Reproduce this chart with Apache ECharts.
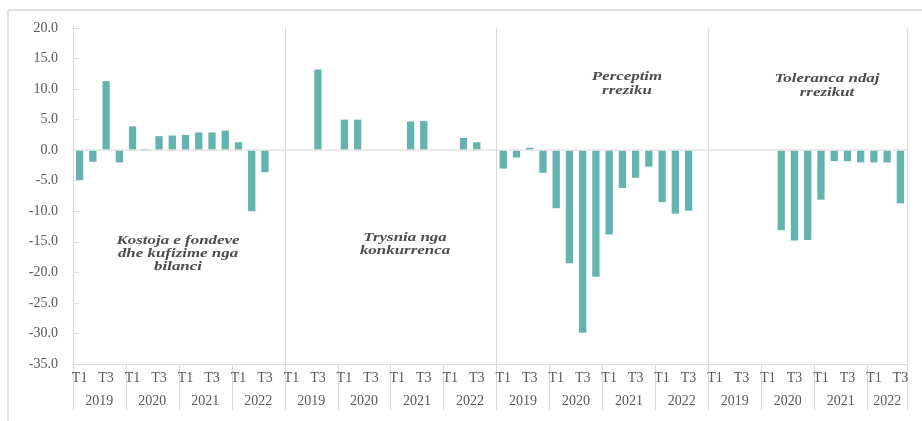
<!DOCTYPE html>
<html>
<head>
<meta charset="utf-8">
<script src="https://cdn.jsdelivr.net/npm/echarts@6/dist/echarts.min.js"></script>
<style>
  html, body { margin: 0; padding: 0; background: #ffffff; }
  #chart { width: 922px; height: 421px; }
</style>
</head>
<body>
<div id="chart"></div>
<script>
// Survey panels, each running 2019 T1 .. 2022
const years = ['2019', '2020', '2021', '2022'];
const quarters = ['T1', 'T2', 'T3', 'T4'];

const panelTitles = [
  'Kostoja e fondeve\ndhe kufizime nga\nbilanci',
  'Trysnia nga\nkonkurrenca',
  'Perceptim\nrreziku',
  'Toleranca ndaj\nrrezikut'
];

// Net balances per quarter (percent)
const kostoja   = [-4.9, -1.9, 11.3, -2.0, 3.9, 0.2, 2.3, 2.4, 2.5, 2.9, 2.9, 3.2, 1.3, -10.0, -3.6, null];
const trysnia   = [0, 0, 13.2, 0, 5.0, 5.0, 0, 0, 0, 4.7, 4.8, 0, 0, 2.0, 1.3, null];
const perceptim = [-3.0, -1.2, 0.4, -3.7, -9.5, -18.5, -29.9, -20.7, -13.8, -6.2, -4.5, -2.7, -8.5, -10.4, -9.9, null];
const toleranca = [0, 0, 0, 0, 0, -13.1, -14.8, -14.7, -8.1, -1.8, -1.8, -2.0, -2.0, -2.0, -8.7];

const panels = [kostoja, trysnia, perceptim, toleranca];

// Flatten panels into one category axis
const categories = [];
const values = [];
const quarterIdx = [];
const yearIdx = [];
const panelStart = [];
panels.forEach(function (vals, p) {
  panelStart.push(categories.length);
  vals.forEach(function (v, k) {
    const y = Math.floor(k / quarters.length);
    const q = k % quarters.length;
    categories.push(panelTitles[p].replace(/\n/g, ' ') + ' ' + years[y] + ' ' + quarters[q]);
    values.push(v);
    quarterIdx.push(q);
    yearIdx.push(y);
  });
});
const total = categories.length;

// Year label sits in the middle of its block of quarters
function yearLabel(i) {
  const q = quarterIdx[i];
  const start = i - q;
  let len = 1;
  while (start + len < total && quarterIdx[start + len] !== 0) len++;
  if (len % 2 === 0) {
    if (q === len / 2 - 1) return '{even|' + years[yearIdx[i]] + '}';
  } else {
    if (q === (len - 1) / 2) return '{odd|' + years[yearIdx[i]] + '}';
  }
  return '';
}

const gray = '#d9d9d9';
const textGray = '#595959';
const font = 'Liberation Serif';
const titleFont = 'italic bold 13px "Liberation Serif"';

const chart = echarts.init(document.getElementById('chart'));

chart.setOption({
  animation: false,
  backgroundColor: '#ffffff',
  grid: { left: 73, right: 15, top: 28, bottom: 57 },
  xAxis: [
    {
      type: 'category',
      data: categories,
      position: 'bottom',
      axisLine: { show: true, onZero: false, lineStyle: { color: gray } },
      axisTick: {
        show: true,
        length: 46,
        interval: function (i) { return quarterIdx[i] === 0; },
        lineStyle: { color: gray }
      },
      splitLine: {
        show: true,
        interval: function (i) { return i > 0 && panelStart.indexOf(i) >= 0; },
        lineStyle: { color: gray, width: 1 }
      },
      axisLabel: {
        interval: 0,
        margin: 7,
        color: textGray,
        fontFamily: font,
        fontSize: 14,
        formatter: function (v, i) {
          const q = quarterIdx[i];
          return (q === 0 || q === 2) ? quarters[q] : '';
        }
      }
    },
    {
      type: 'category',
      data: categories,
      position: 'bottom',
      axisLine: { show: false },
      axisTick: { show: false },
      splitLine: { show: false },
      axisLabel: {
        interval: 0,
        margin: 30,
        color: textGray,
        fontFamily: font,
        fontSize: 14,
        formatter: function (v, i) { return yearLabel(i); },
        rich: {
          even: { padding: [0, 0, 0, 13], color: textGray, fontFamily: font, fontSize: 14 },
          odd: { color: textGray, fontFamily: font, fontSize: 14 }
        }
      }
    }
  ],
  yAxis: {
    type: 'value',
    min: -35,
    max: 20,
    interval: 5,
    axisLine: { show: true, lineStyle: { color: gray } },
    axisTick: { show: true, inside: true, length: 6, lineStyle: { color: gray } },
    splitLine: { show: false },
    axisLabel: {
      margin: 15,
      color: textGray,
      fontFamily: font,
      fontSize: 14,
      formatter: function (v) { return v.toFixed(1); }
    }
  },
  series: [
    {
      type: 'bar',
      xAxisIndex: 0,
      data: values,
      barWidth: '55%',
      itemStyle: { color: '#63b3ae' },
      markLine: {
        silent: true,
        symbol: 'none',
        label: { show: false },
        lineStyle: { color: '#e3e3e3', type: 'solid', width: 1.5 },
        data: [{ yAxis: 0 }]
      }
    }
  ],
  graphic: [
    { type: 'line', shape: { x1: 8, y1: 10, x2: 8, y2: 421 }, style: { stroke: gray, lineWidth: 1.5 } },
    { type: 'line', shape: { x1: 8, y1: 10, x2: 922, y2: 10 }, style: { stroke: gray, lineWidth: 1.5 } },
    { type: 'text', x: 178, y: 234, scaleX: 1.3, style: { text: panelTitles[0], textAlign: 'center', textVerticalAlign: 'top', fill: '#4d4d4d', font: titleFont, lineHeight: 13 } },
    { type: 'text', x: 405, y: 231, scaleX: 1.3, style: { text: panelTitles[1], textAlign: 'center', textVerticalAlign: 'top', fill: '#4d4d4d', font: titleFont, lineHeight: 13 } },
    { type: 'text', x: 627, y: 70, scaleX: 1.3, style: { text: panelTitles[2], textAlign: 'center', textVerticalAlign: 'top', fill: '#4d4d4d', font: titleFont, lineHeight: 14 } },
    { type: 'text', x: 827, y: 72, scaleX: 1.3, style: { text: panelTitles[3], textAlign: 'center', textVerticalAlign: 'top', fill: '#4d4d4d', font: titleFont, lineHeight: 14 } }
  ]
});
</script>
</body>
</html>
